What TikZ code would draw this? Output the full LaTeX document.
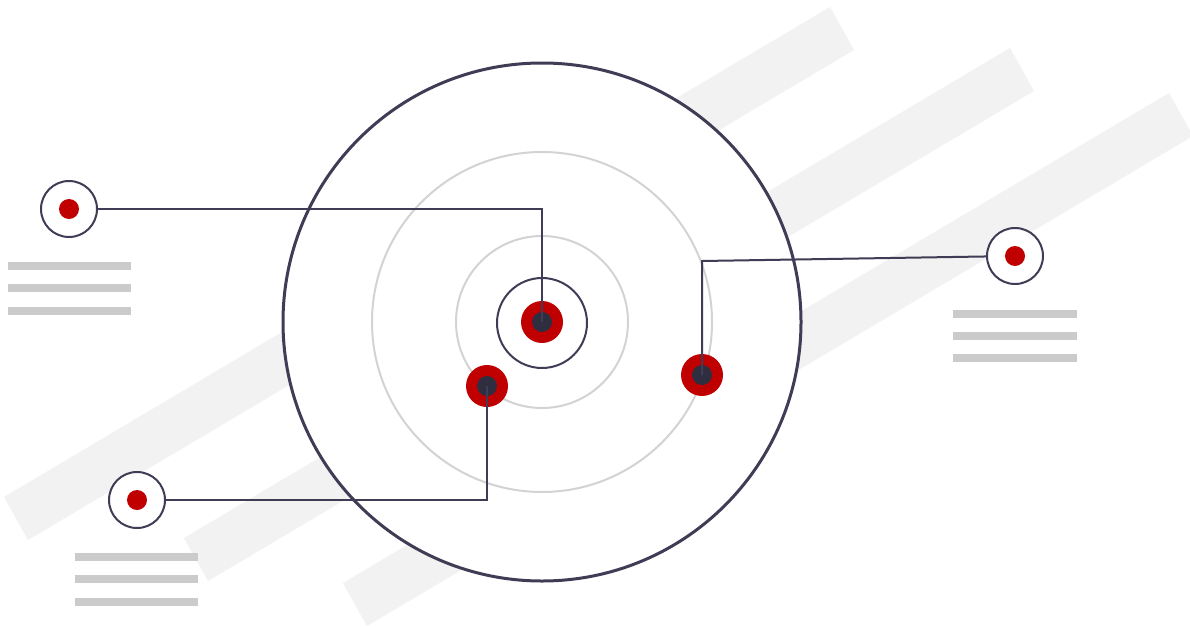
\documentclass[tikz,border=0pt]{standalone}
\usepackage{tikz}
\usetikzlibrary{calc}
\definecolor{inkdark}{HTML}{3F3D56}
\definecolor{dotdark}{HTML}{2F2E41}
\definecolor{hitred}{HTML}{C00000}
\definecolor{stripegray}{HTML}{F2F2F2}
\definecolor{ringgray}{HTML}{D3D3D3}
\definecolor{textgray}{HTML}{CBCBCB}

\begin{document}
\begin{tikzpicture}[x=1pt,y=-1pt,
    stripe/.style={fill=stripegray},
    ring/.style={draw=ringgray,line width=2pt},
    hit/.style={circle,fill=hitred,minimum size=42pt,inner sep=0pt,
      path picture={\fill[dotdark] (path picture bounding box.center) circle (10pt);}},
    sat/.style={circle,draw=inkdark,fill=white,line width=2pt,minimum size=56pt,inner sep=0pt,
      path picture={\fill[hitred] (path picture bounding box.center) circle (10pt);}},
    wire/.style={draw=inkdark,line width=2pt},
    txtline/.style={textgray,line width=7.5pt}]
  \useasboundingbox (0,0) rectangle (1190,626);
  \clip (0,0) rectangle (1190,626);
  \fill[white] (0,0) rectangle (1190,626);
  % Slanted background bands
  \foreach \sx/\sy in {4/497,184/538,343/583}
    \fill[stripe] (\sx,\sy) -- ++(826,-490) -- ++(24,43) -- ++(-826,490) -- cycle;
  % Target
  \draw[inkdark,fill=white,line width=3pt] (542,322) circle (259pt);
  \draw[ring] (542,322) circle (170pt);
  \draw[ring] (542,322) circle (86pt);
  \draw[inkdark,line width=2pt] (542,323) circle (45pt);
  % Hits
  \node[hit] (hitA) at (542,322) {};
  \node[hit] (hitB) at (702,375) {};
  \node[hit] (hitC) at (487,386) {};
  % Callouts
  \node[sat] (satA) at (69,209) {};
  \node[sat] (satB) at (1015,256) {};
  \node[sat] (satC) at (137,500) {};
  \coordinate (bendB) at (702,261);
  \draw[wire] (satA) -| (hitA.center);
  \draw[wire] (satB) -- (bendB) -- (hitB.center);
  \draw[wire] (satC) -| (hitC.center);
  % Text placeholders
  \foreach \y in {266,288,311} \draw[txtline] (8,\y) -- (131,\y);
  \foreach \y in {314,336,358} \draw[txtline] (953,\y) -- (1077,\y);
  \foreach \y in {557,579,602} \draw[txtline] (75,\y) -- (198,\y);
\end{tikzpicture}
\end{document}
